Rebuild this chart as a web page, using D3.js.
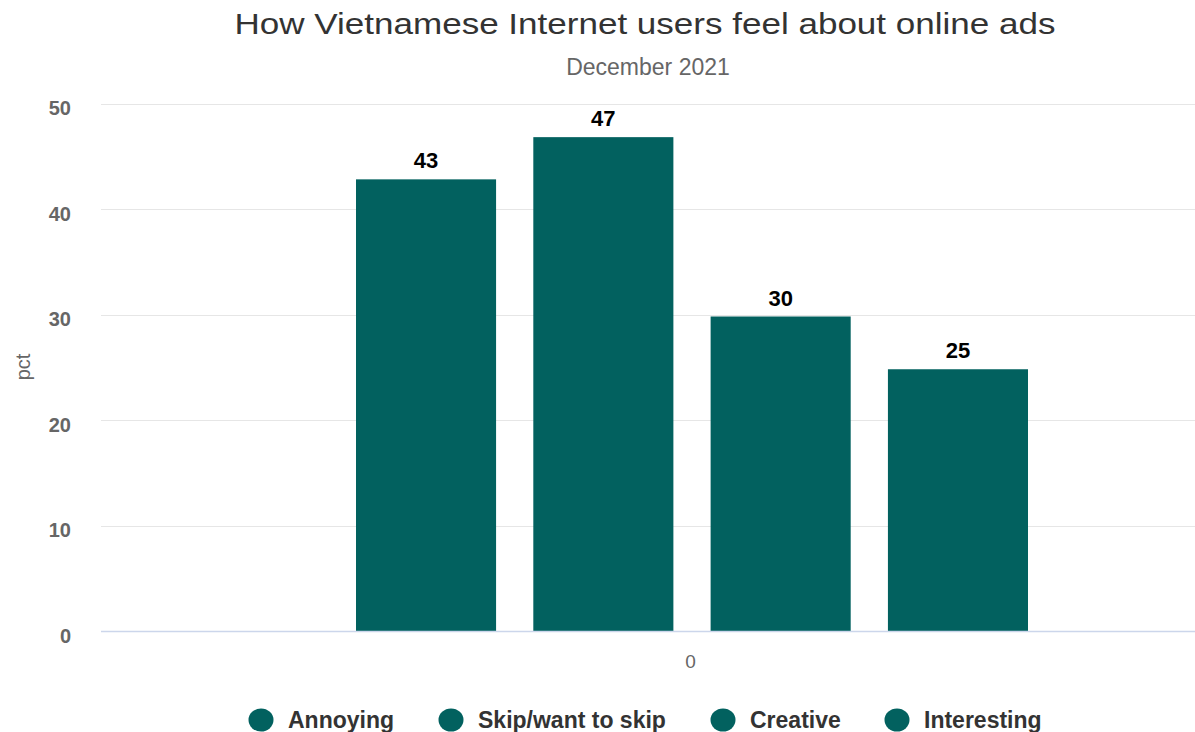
<!DOCTYPE html>
<html><head><meta charset="utf-8">
<script src="https://cdn.jsdelivr.net/npm/d3@7"></script>
<style>body{margin:0;background:#fff}svg{display:block;font-family:"Liberation Sans",Arial,sans-serif}</style>
</head><body>
<svg id="c" width="1195" height="732"></svg>
<script>
const categories = ["0"];
const seriesNames = ["Annoying", "Skip/want to skip", "Creative", "Interesting"];
const seriesValues = [43, 47, 30, 25];
const yTicks = [0, 10, 20, 30, 40, 50];
const color = "#02615f";

const svg = d3.select("#c");
const CX = 645;
const m = {left: 101, right: 1283, top: 103.5, bottom: 631};

const x0 = d3.scaleBand().domain(categories).range([m.left, m.right]);
const x1 = d3.scaleBand().domain(seriesNames).range([356, 1028]).paddingInner(0.21).paddingOuter(0);
const y = d3.scaleLinear().domain([0, 50]).range([m.bottom, m.top]);

// gridlines
svg.append("g").selectAll("line").data(yTicks.filter(d => d > 0)).join("line")
  .attr("x1", m.left).attr("x2", m.right)
  .attr("y1", d => Math.round(y(d)) + 0.5).attr("y2", d => Math.round(y(d)) + 0.5)
  .attr("stroke", "#e6e6e6").attr("stroke-width", 1);

// y axis labels
const yAxis = d3.axisLeft(y).tickValues(yTicks).tickSize(0).tickPadding(0);
const ga = svg.append("g").attr("transform", `translate(${71},0)`).call(yAxis);
ga.select(".domain").remove();
ga.selectAll("text").attr("font-size", 20).attr("font-weight", "bold").attr("fill", "#666")
  .attr("font-family", "Liberation Sans, Arial, sans-serif").attr("dy", 11);

// axis title
svg.append("text").attr("transform", `translate(30,${367}) rotate(-90)`)
  .attr("text-anchor", "middle").attr("font-size", 20).attr("fill", "#666").text("pct");

// bars
const bw = x1.bandwidth();
const barData = seriesNames.map((n, i) => ({n, v: seriesValues[i]}));
svg.append("g").selectAll("rect").data(barData).join("rect")
  .attr("x", d => x1(d.n)).attr("width", bw)
  .attr("y", d => y(d.v) + 2).attr("height", d => y(0) - y(d.v) - 2)
  .attr("fill", color);

// data labels
svg.append("g").selectAll("text").data(barData).join("text")
  .attr("x", d => x1(d.n) + bw / 2).attr("y", d => y(d.v) - 9)
  .attr("text-anchor", "middle").attr("font-size", 22).attr("font-weight", "bold").attr("fill", "#000")
  .attr("stroke", "#fff").attr("stroke-width", 3).attr("paint-order", "stroke").attr("stroke-linejoin", "round")
  .text(d => d.v);

// x axis line
svg.append("line").attr("x1", m.left).attr("x2", m.right).attr("y1", m.bottom + 0.5).attr("y2", m.bottom + 0.5)
  .attr("stroke", "#ccd6eb").attr("stroke-width", 1.5);

// x axis labels
const xAxis = d3.axisBottom(d3.scalePoint().domain(categories).range([690, 690])).tickSize(0).tickPadding(0);
const gx = svg.append("g").attr("transform", `translate(0,${668})`).call(xAxis);
gx.select(".domain").remove();
gx.selectAll("text").attr("font-size", 19).attr("fill", "#666").attr("font-family", "Liberation Sans, Arial, sans-serif").attr("dy", 0);

// title
svg.append("text").attr("x", 234.5).attr("y", 34)
  .attr("font-size", 30).attr("fill", "#333")
  .attr("textLength", 821).attr("lengthAdjust", "spacingAndGlyphs")
  .text("How Vietnamese Internet users feel about online ads");
svg.append("text").attr("x", CX + 3).attr("y", 75).attr("text-anchor", "middle")
  .attr("font-size", 23).attr("fill", "#666").text("December 2021");

// legend
const legX = [261, 451, 723, 897];
const lg = svg.append("g").selectAll("g").data(seriesNames).join("g")
  .attr("transform", (d, i) => `translate(${legX[i]},720)`);
lg.append("ellipse").attr("rx", 12.5).attr("ry", 11.5).attr("fill", color);
lg.append("text").attr("x", 27).attr("y", 7.5).attr("font-size", 23).attr("font-weight", "bold")
  .attr("fill", "#333").text(d => d);
</script>
</body></html>
